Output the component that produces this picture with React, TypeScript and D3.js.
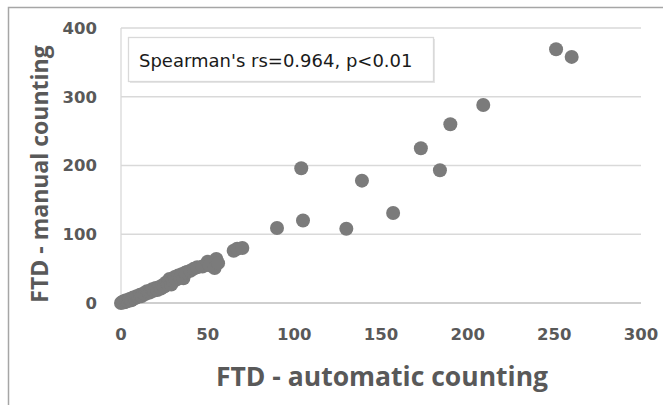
import React from "react";
import * as d3 from "d3";

const xTicks = [0, 50, 100, 150, 200, 250, 300];
const yTicks = [0, 100, 200, 300, 400];
const autoCount = [
  0, 1, 1, 2, 2, 3, 3, 4, 5, 5, 6, 7, 8, 9, 10, 11, 12, 13, 14, 15, 16, 17, 18, 19, 20, 21, 22, 23, 24, 25,
  26, 27, 28, 29, 30, 31, 32, 33, 34, 35, 36, 37, 38, 40, 42, 44, 47, 50, 51, 54, 55, 56, 65, 67, 70, 90,
  104, 105, 130, 139, 157, 173, 184, 190, 209, 251, 260,
];
const manualCount = [
  0, 1, 2, 1, 3, 2, 4, 3, 5, 6, 4, 8, 7, 10, 9, 12, 10, 14, 13, 17, 15, 16, 20, 18, 22, 19, 23, 21, 26, 24,
  30, 28, 35, 27, 32, 38, 34, 40, 37, 42, 36, 44, 45, 47, 50, 52, 53, 60, 55, 51, 64, 58, 76, 79, 80, 109,
  196, 120, 108, 178, 131, 225, 193, 260, 288, 369, 358,
];
const legendText = "Spearman's rs=0.964, p<0.01";
const xTitle = "FTD - automatic counting";
const yTitle = "FTD - manual counting";

export default function App() {
  const W = 663;
  const H = 405;
  const left = 121;
  const right = 641;
  const top = 28;
  const bottom = 303;
  const x = d3.scaleLinear().domain([0, 300]).range([left, right]);
  const y = d3.scaleLinear().domain([0, 400]).range([bottom, top]);
  const pts = autoCount.map((a, i) => ({ a, m: manualCount[i] }));
  const titleFont = "'Open Sans', 'DejaVu Sans', sans-serif";
  const tickFont = "'DejaVu Sans', sans-serif";
  return (
    <svg width={W} height={H} style={{ position: "absolute", left: 0, top: 0, background: "#fff" }}>
      <rect x={0} y={0} width={W} height={H} fill="#fff" />
      <rect x={8.5} y={7.5} width={700} height={450} fill="none" stroke="#a6a6a6" strokeWidth={1.5} />
      {yTicks.filter((t) => t > 0).map((t) => (
        <line key={t} x1={left} x2={right} y1={y(t)} y2={y(t)} stroke="#d9d9d9" strokeWidth={1.3} />
      ))}
      <line x1={left} x2={left} y1={top} y2={bottom} stroke="#d9d9d9" strokeWidth={1.3} />
      <line x1={left} x2={right} y1={bottom} y2={bottom} stroke="#bfbfbf" strokeWidth={1.3} />
      {yTicks.map((t) => (
        <text key={t} x={97} y={y(t)} dy="0.36em" textAnchor="end" fontFamily={tickFont} fontWeight="bold"
          fontSize={16.5} fill="#595959">{t}</text>
      ))}
      {xTicks.map((t) => (
        <text key={t} x={x(t)} y={340} textAnchor="middle" fontFamily={tickFont} fontWeight="bold"
          fontSize={16.5} fill="#595959">{t}</text>
      ))}
      <rect x={130} y={39} width={305} height={44} fill="#e6e6e6" />
      <rect x={128.5} y={37.5} width={305} height={44} fill="#fff" stroke="#d9d9d9" strokeWidth={1.3} />
      <text x={139} y={67} fontFamily={tickFont} fontSize={18} fill="#1a1a1a">{legendText}</text>
      {pts.map((p, i) => (
        <circle key={i} cx={x(p.a)} cy={y(p.m)} r={7} fill="#7b7b7b" />
      ))}
      <text x={382} y={386} textAnchor="middle" fontFamily={titleFont} fontWeight="bold" fontSize={26.5}
        fill="#595959">{xTitle}</text>
      <text transform={`translate(48,174) rotate(-90)`} textAnchor="middle" fontFamily={titleFont} fontWeight="bold"
        fontSize={23} fill="#595959">{yTitle}</text>
    </svg>
  );
}
